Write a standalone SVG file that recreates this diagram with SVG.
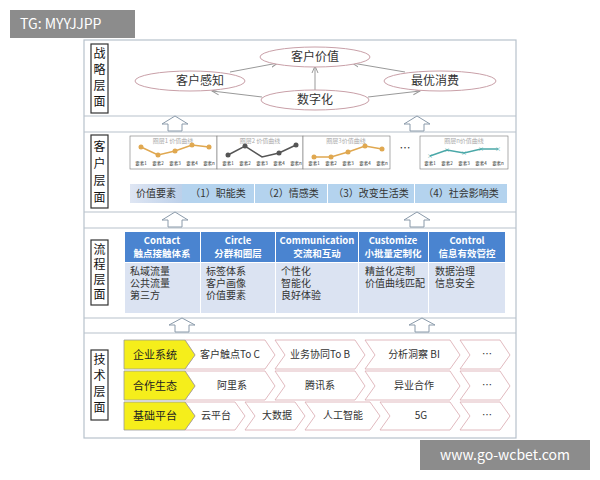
<svg xmlns="http://www.w3.org/2000/svg" width="600" height="480" viewBox="0 0 600 480">
<defs>
<marker id="ah" markerWidth="8" markerHeight="8" refX="7" refY="4" orient="auto" markerUnits="userSpaceOnUse"><path d="M0,1 L7,4 L0,7" fill="none" stroke="#999" stroke-width="1"/></marker>
<linearGradient id="vg" x1="0" y1="0" x2="1" y2="0"><stop offset="0" stop-color="#dfe6f3"/><stop offset="1" stop-color="#bcd0ea"/></linearGradient>
</defs>
<style>
text{font-family:"Noto Sans CJK SC","Liberation Sans",sans-serif;fill:#333}
.lbl{font-size:12px;fill:#111;text-anchor:middle}
.lb{fill:#fff;stroke:#333;stroke-width:1.2}
.ell{fill:#fff;stroke:#c9a0a8;stroke-width:1}
.et{font-size:12px;text-anchor:middle}
.con{stroke:#999;stroke-width:1;fill:none;marker-end:url(#ah)}
.up{fill:#fff;stroke:#8a9aaa;stroke-width:1}
.ch{fill:#fff;stroke:#777;stroke-width:0.6}
.ct{font-size:6px;fill:#aaa;text-anchor:middle}
.ax{font-size:4.5px;fill:#999;text-anchor:middle}
.vc{fill:#b4d3ee}
.vt{font-size:10px;text-anchor:middle;fill:#333}
.ph{fill:#4a84d0}
.pht{font-size:9.5px;fill:#fff;text-anchor:middle;font-weight:bold}
.pb{fill:#dbe3f2}
.pbt{font-size:10px;fill:#333}
.yl{fill:#f5ee1b;stroke:#999;stroke-width:0.8}
.cv{fill:#fff;stroke:#d9a8ae;stroke-width:0.8}
.tt{font-size:10px;text-anchor:middle;fill:#333}
.yt{font-size:11px;text-anchor:middle;fill:#222}
.sep{stroke:#b7c2cc;stroke-width:1.2}
</style>
<rect width="600" height="480" fill="#fff"/>
<rect x="84" y="40" width="432" height="398" fill="#fff" stroke="#b7c2cc" stroke-width="1.2"/>
<line class="sep" x1="84" y1="116" x2="516" y2="116"/>
<line class="sep" x1="84" y1="132" x2="516" y2="132"/>
<line class="sep" x1="84" y1="212" x2="516" y2="212"/>
<line class="sep" x1="84" y1="228" x2="516" y2="228"/>
<line class="sep" x1="84" y1="318" x2="516" y2="318"/>
<line class="sep" x1="84" y1="333" x2="516" y2="333"/>

<g id="layer-labels">
<rect class="lb" x="91" y="44" width="17" height="69"/>
<text class="lbl" x="99.5" y="58">战</text><text class="lbl" x="99.5" y="74">略</text><text class="lbl" x="99.5" y="90">层</text><text class="lbl" x="99.5" y="106">面</text>
<rect class="lb" x="91" y="135" width="17" height="73"/>
<text class="lbl" x="99.5" y="151">客</text><text class="lbl" x="99.5" y="168">户</text><text class="lbl" x="99.5" y="185">层</text><text class="lbl" x="99.5" y="202">面</text>
<rect class="lb" x="91" y="240" width="17" height="65"/>
<text class="lbl" x="99.5" y="254">流</text><text class="lbl" x="99.5" y="269">程</text><text class="lbl" x="99.5" y="284">层</text><text class="lbl" x="99.5" y="299">面</text>
<rect class="lb" x="91" y="350" width="17" height="70"/>
<text class="lbl" x="99.5" y="364">技</text><text class="lbl" x="99.5" y="380">术</text><text class="lbl" x="99.5" y="396">层</text><text class="lbl" x="99.5" y="412">面</text>
</g>

<g id="connectors">
<line class="con" x1="315" y1="90" x2="315" y2="66"/>
<line class="con" x1="230" y1="72" x2="278" y2="63"/>
<line class="con" x1="405" y1="72" x2="352" y2="63"/>
<line class="con" x1="262" y1="97" x2="212" y2="91"/>
<line class="con" x1="368" y1="97" x2="420" y2="91"/>
</g>

<g id="n-kehujiazhi"><ellipse class="ell" cx="315" cy="57" rx="55" ry="10"/><text class="et" x="315" y="61">客户价值</text></g>
<g id="n-kehuganzhi"><ellipse class="ell" cx="190" cy="81" rx="55" ry="10"/><text class="et" x="200" y="85">客户感知</text></g>
<g id="n-zuiyou"><ellipse class="ell" cx="440" cy="81" rx="56" ry="10"/><text class="et" x="435" y="85">最优消费</text></g>
<g id="n-shuzihua"><ellipse class="ell" cx="315" cy="100" rx="54" ry="10"/><text class="et" x="315" y="104">数字化</text></g>

<g id="up-arrows">
<path class="up" d="M168,131 V124 H162 L175,116 L188,124 H182 V131 Z"/>
<path class="up" d="M410,131 V124 H404 L417,116 L430,124 H424 V131 Z"/>
<path class="up" d="M168,227 V220 H162 L175,212 L188,220 H182 V227 Z"/>
<path class="up" d="M410,227 V220 H404 L417,212 L430,220 H424 V227 Z"/>
<path class="up" d="M175,332 V325 H169 L182,318 L195,325 H189 V332 Z"/>
<path class="up" d="M415,332 V325 H409 L422,318 L435,325 H429 V332 Z"/>
</g>

<g id="curves">
<rect class="ch" x="130" y="136" width="87" height="33" fill="#fff" stroke="#ccc"/>
<text class="ct" x="173" y="143">圈层1 价值曲线</text>
<polyline points="141,147 158,155 175,151 192,145 209,147" fill="none" stroke="#e0a850" stroke-width="1.5"/>
<g fill="#e0a850"><circle cx="141" cy="147" r="2.5"/><circle cx="158" cy="155" r="2.5"/><circle cx="175" cy="151" r="2.5"/><circle cx="192" cy="145" r="2.5"/><circle cx="209" cy="147" r="2.5"/></g>
<g class="ax"><text x="141" y="165">要素1</text><text x="158" y="165">要素2</text><text x="175" y="165">要素3</text><text x="192" y="165">要素4</text><text x="209" y="165">要素n</text></g>

<rect class="ch" x="217" y="136" width="86" height="33" fill="#fff" stroke="#ccc"/>
<text class="ct" x="260" y="143">圈层2 价值曲线</text>
<polyline points="228,155 245,146 262,157 279,153 296,145" fill="none" stroke="#555" stroke-width="1.5"/>
<g fill="#555"><circle cx="228" cy="155" r="2.5"/><circle cx="245" cy="146" r="2.5"/><circle cx="279" cy="153" r="2.5"/><circle cx="296" cy="145" r="2.5"/></g>
<g class="ax"><text x="228" y="165">要素1</text><text x="245" y="165">要素2</text><text x="262" y="165">要素3</text><text x="279" y="165">要素4</text><text x="296" y="165">要素n</text></g>

<rect class="ch" x="303" y="136" width="87" height="33" fill="#fff" stroke="#ccc"/>
<text class="ct" x="346" y="143">圈层3价值曲线</text>
<polyline points="314,157 331,157 348,152 365,146 382,149" fill="none" stroke="#e0a850" stroke-width="1.5"/>
<g fill="#e0a850"><circle cx="314" cy="157" r="2.5"/><circle cx="331" cy="157" r="2.5"/><circle cx="348" cy="152" r="2.5"/><circle cx="365" cy="146" r="2.5"/><circle cx="382" cy="149" r="2.5"/></g>
<g class="ax"><text x="314" y="165">要素1</text><text x="331" y="165">要素2</text><text x="348" y="165">要素3</text><text x="365" y="165">要素4</text><text x="382" y="165">要素n</text></g>

<text x="405" y="152" font-size="11" text-anchor="middle" fill="#333">…</text>

<rect class="ch" x="420" y="136" width="88" height="33" fill="#fff" stroke="#ccc"/>
<text class="ct" x="464" y="143">圈层n价值曲线</text>
<polyline points="430,156 447,150 464,153 481,149 498,149" fill="none" stroke="#4aa8a8" stroke-width="1.5"/>
<g font-size="6" text-anchor="middle"><text x="430" y="158" style="fill:#4aa8a8">×</text><text x="447" y="152" style="fill:#4aa8a8">×</text><text x="464" y="155" style="fill:#4aa8a8">×</text><text x="481" y="151" style="fill:#4aa8a8">×</text><text x="498" y="151" style="fill:#4aa8a8">×</text></g>
<g class="ax"><text x="430" y="165">要素1</text><text x="447" y="165">要素2</text><text x="464" y="165">要素3</text><text x="481" y="165">要素4</text><text x="498" y="165">要素n</text></g>
</g>

<g id="value-row">
<rect x="130" y="184" width="52" height="19" fill="url(#vg)"/>
<text class="vt" x="156" y="197">价值要素</text>
<rect class="vc" x="182" y="184" width="72" height="19"/><text class="vt" x="218" y="197">（1）职能类</text>
<rect class="vc" x="255" y="184" width="72" height="19"/><text class="vt" x="291" y="197">（2）情感类</text>
<rect class="vc" x="328" y="184" width="86" height="19"/><text class="vt" x="371" y="197">（3）改变生活类</text>
<rect class="vc" x="415" y="184" width="92" height="19"/><text class="vt" x="461" y="197">（4）社会影响类</text>
</g>

<g id="process">
<rect class="ph" x="125" y="232" width="75" height="30"/><rect class="pb" x="125" y="263" width="75" height="50"/>
<text class="pht" x="162" y="244">Contact</text><text class="pht" x="162" y="257">触点接触体系</text>
<text class="pbt" x="130" y="275">私域流量</text><text class="pbt" x="130" y="287">公共流量</text><text class="pbt" x="130" y="299">第三方</text>
<rect class="ph" x="201" y="232" width="74" height="30"/><rect class="pb" x="201" y="263" width="74" height="50"/>
<text class="pht" x="238" y="244">Circle</text><text class="pht" x="238" y="257">分群和圈层</text>
<text class="pbt" x="206" y="275">标签体系</text><text class="pbt" x="206" y="287">客户画像</text><text class="pbt" x="206" y="299">价值要素</text>
<rect class="ph" x="276" y="232" width="82" height="30"/><rect class="pb" x="276" y="263" width="82" height="50"/>
<text class="pht" x="317" y="244">Communication</text><text class="pht" x="317" y="257">交流和互动</text>
<text class="pbt" x="281" y="275">个性化</text><text class="pbt" x="281" y="287">智能化</text><text class="pbt" x="281" y="299">良好体验</text>
<rect class="ph" x="359" y="232" width="69" height="30"/><rect class="pb" x="359" y="263" width="69" height="50"/>
<text class="pht" x="393" y="244">Customize</text><text class="pht" x="393" y="257">小批量定制化</text>
<text class="pbt" x="365" y="275">精益化定制</text><text class="pbt" x="365" y="287">价值曲线匹配</text>
<rect class="ph" x="429" y="232" width="76" height="30"/><rect class="pb" x="429" y="263" width="76" height="50"/>
<text class="pht" x="467" y="244">Control</text><text class="pht" x="467" y="257">信息有效管控</text>
<text class="pbt" x="435" y="275">数据治理</text><text class="pbt" x="435" y="287">信息安全</text>
</g>

<g id="tech-row1">
<path class="cv" d="M460,340 H500 L510,355 L500,369 H460 L470,355 Z"/><text class="tt" x="487" y="358">…</text>
<path class="cv" d="M365,340 H450 L460,355 L450,369 H365 L375,355 Z"/><text class="tt" x="414" y="358">分析洞察 BI</text>
<path class="cv" d="M275,340 H355 L365,355 L355,369 H275 L285,355 Z"/><text class="tt" x="320" y="358">业务协同To B</text>
<path class="cv" d="M185,340 H265 L275,355 L265,369 H185 L195,355 Z"/><text class="tt" x="230" y="358">客户触点To C</text>
<path class="yl" d="M124,340 H185 L195,355 L185,369 H124 Z"/><text class="yt" x="155" y="359">企业系统</text>
</g>
<g id="tech-row2">
<path class="cv" d="M460,371 H500 L510,386 L500,400 H460 L470,386 Z"/><text class="tt" x="487" y="389">…</text>
<path class="cv" d="M365,371 H450 L460,386 L450,400 H365 L375,386 Z"/><text class="tt" x="414" y="389">异业合作</text>
<path class="cv" d="M275,371 H355 L365,386 L355,400 H275 L285,386 Z"/><text class="tt" x="320" y="389">腾讯系</text>
<path class="cv" d="M185,371 H265 L275,386 L265,400 H185 L195,386 Z"/><text class="tt" x="232" y="389">阿里系</text>
<path class="yl" d="M124,371 H185 L195,386 L185,400 H124 Z"/><text class="yt" x="155" y="390">合作生态</text>
</g>
<g id="tech-row3">
<path class="cv" d="M460,402 H500 L510,416 L500,430 H460 L470,416 Z"/><text class="tt" x="487" y="419">…</text>
<path class="cv" d="M380,402 H450 L460,416 L450,430 H380 L390,416 Z"/><text class="tt" x="421" y="419">5G</text>
<path class="cv" d="M305,402 H370 L380,416 L370,430 H305 L315,416 Z"/><text class="tt" x="343" y="419">人工智能</text>
<path class="cv" d="M245,402 H295 L305,416 L295,430 H245 L255,416 Z"/><text class="tt" x="277" y="419">大数据</text>
<path class="cv" d="M185,402 H235 L245,416 L235,430 H185 L195,416 Z"/><text class="tt" x="216" y="419">云平台</text>
<path class="yl" d="M124,402 H185 L195,416 L185,430 H124 Z"/><text class="yt" x="155" y="420">基础平台</text>
</g>

<g id="watermarks">
<rect x="10" y="10" width="125" height="28" fill="#8c8c8c"/>
<text x="20" y="29" font-size="14" style="fill:#fff">TG: MYYJJPP</text>
<rect x="420" y="440" width="170" height="30" fill="#8c8c8c"/>
<text x="505" y="460" font-size="14" text-anchor="middle" style="fill:#fff">www.go-wcbet.com</text>
</g>
</svg>
